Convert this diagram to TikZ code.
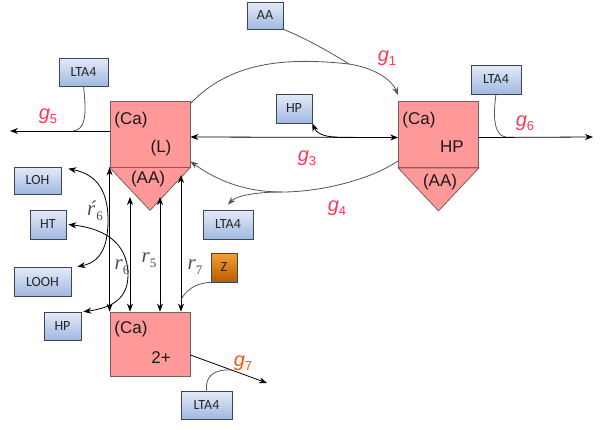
\documentclass[tikz,border=0pt]{standalone}
\usepackage{fontspec}
\setmainfont{Liberation Sans}
\newfontfamily\smallfont{Carlito}
\newfontfamily\rfont{Liberation Serif}
\usetikzlibrary{arrows.meta,calc}
\definecolor{pinkf}{RGB}{255,153,153}
\definecolor{pinkd}{RGB}{120,95,95}
\definecolor{bluetop}{RGB}{228,235,248}
\definecolor{bluebot}{RGB}{160,184,225}
\definecolor{blued}{RGB}{60,70,90}
\definecolor{orgtop}{RGB}{245,160,50}
\definecolor{orgbot}{RGB}{185,90,0}
\definecolor{gcol}{RGB}{255,55,85}
\definecolor{gsev}{RGB}{255,80,20}
\definecolor{rcol}{RGB}{70,78,105}
\definecolor{feedc}{RGB}{85,85,85}
\newcommand{\gl}[1]{\textit{g}\raisebox{-0.22em}{\fontsize{13}{13}\selectfont #1}}
\newcommand{\rl}[2]{\textit{#1}\raisebox{-0.25em}{\fontsize{13}{13}\selectfont #2}}
\begin{document}
\begin{tikzpicture}[x=1pt,y=-1pt,
  pinkbox/.style={draw=pinkd, fill=pinkf, line width=0.8pt, minimum width=80pt, minimum height=66pt, inner sep=0pt},
  tri/.style={draw=pinkd, fill=pinkf, line width=0.8pt},
  bluebox/.style={draw=blued, line width=0.6pt, top color=bluetop, bottom color=bluebot, inner sep=0pt,
    font=\smallfont\fontsize{14}{15}\selectfont, text=black!85},
  zbox/.style={draw=blued, line width=0.6pt, top color=orgtop, bottom color=orgbot, inner sep=0pt,
    font=\smallfont\fontsize{14}{15}\selectfont, text=black!85},
  boxtext/.style={font=\fontsize{17}{20}\selectfont, inner sep=0pt, text=black!90},
  tip/.tip={Stealth[length=8pt,width=6pt]},
  arr/.style={-tip, line width=0.8pt},
  dbl/.style={tip-tip, line width=0.8pt},
  feed/.style={draw=feedc, line width=0.8pt},
  garr/.style={draw=feedc, line width=0.8pt, -tip},
  glab/.style={text=gcol, font=\fontsize{20}{22}\selectfont, inner sep=0pt},
  rlab/.style={text=rcol, font=\rfont\fontsize{21}{22}\selectfont, inner sep=0pt},
]
\useasboundingbox (0,0) rectangle (600,429);

% pink compartments
\node[pinkbox] (L) at (150,134) {};
\draw[tri] (L.south west) -- (L.south east) -- ($(L.south)+(0,43)$) coordinate (Lapex) -- cycle;
\node[pinkbox] (R) at (438.5,134.5) {};
\draw[tri] (R.south west) -- (R.south east) -- ($(R.south)+(0,43)$) coordinate (Rapex) -- cycle;
\node[pinkbox, minimum height=64pt] (B) at (150,344) {};

\node[boxtext] (Lca) at (131,120) {(Ca)};
\node[boxtext] (Ll) at (161,148) {(L)};
\node[boxtext] (Laa) at (148,179) {(AA)};
\node[boxtext] (Rca) at (419,120) {(Ca)};
\node[boxtext] (Rhp) at (452,147) {HP};
\node[boxtext] (Raa) at (440,182) {(AA)};
\node[boxtext] (Bca) at (131,329) {(Ca)};
\node[boxtext] (Btwo) at (161,358) {2+};

% small boxes
\node[bluebox, minimum width=36pt, minimum height=27pt] (aa) at (265,15.5) {AA};
\node[bluebox, minimum width=49pt, minimum height=28pt] (lta1) at (83.5,72) {LTA4};
\node[bluebox, minimum width=36pt, minimum height=29pt] (hp1) at (294,108.5) {HP};
\node[bluebox, minimum width=50pt, minimum height=29pt] (lta2) at (496,79.5) {LTA4};
\node[bluebox, minimum width=47pt, minimum height=27pt] (loh) at (37.5,180.5) {LOH};
\node[bluebox, minimum width=36pt, minimum height=29pt] (ht) at (48,224.5) {HT};
\node[bluebox, minimum width=57pt, minimum height=29pt] (looh) at (42.5,281.5) {LOOH};
\node[bluebox, minimum width=37pt, minimum height=28pt] (hp2) at (62.5,326) {HP};
\node[bluebox, minimum width=50pt, minimum height=29pt] (lta3) at (228,224.5) {LTA4};
\node[zbox, minimum width=26pt, minimum height=29pt] (z) at (224,267.5) {Z};
\node[bluebox, minimum width=51pt, minimum height=28pt] (lta4) at (206.5,405) {LTA4};

% coordinates
\coordinate (g5end) at (10,131);
\coordinate (g5j) at (73,131);
\coordinate (g6end) at (593,137);
\coordinate (g6j) at (506,137);
\coordinate (g3j) at (337,137);
\coordinate (g1j) at (349,64);
\coordinate (g4j) at (282,192);
\coordinate (g7end) at (267,383);
\coordinate (g7j) at (232,370);
\coordinate (t2) at (130,197);
\coordinate (t3) at (160,197);
\coordinate (t4) at (181,175);
\coordinate (zj) at (181,300);

% g5
\draw[arr] ([yshift=3pt]L.west) -- (g5end);
\draw[feed] (lta1.south) .. controls (87,116) and (85,130) .. (g5j);
% g6
\draw[arr] ([yshift=-3pt]R.east) -- (g6end);
\draw[feed] (lta2.south) .. controls (492,122) and (496,136) .. (g6j);
% g3
\draw[dbl] ([yshift=-3pt]L.east) -- ([yshift=-3pt]R.west);
\draw[arr] (g3j) .. controls (322,137) and (316,132) .. (hp1.south east);
% g1
\draw[feed] ([yshift=-3pt]L.north east) .. controls (230,62) and (285,57) .. (g1j);
\draw[garr] (g1j) .. controls (375,68) and (392,80) .. ([yshift=6pt]R.north west);
\draw[feed] (aa.south east) .. controls (305,38) and (330,52) .. (g1j);
% g4
\draw[feed] ([yshift=7pt]R.south west) .. controls (370,180) and (320,192) .. (g4j);
\draw[garr] (g4j) .. controls (240,192) and (212,177) .. ([yshift=6pt]L.south east);
\draw[garr] (g4j) .. controls (255,192) and (236,196) .. ([yshift=5pt]lta3.north);
% g7
\draw[arr] ([yshift=-11pt]B.east) -- (g7end);
\draw[feed] (lta4.north) .. controls (205,376) and (214,369) .. (g7j);

% vertical exchanges
\draw[dbl] (L.south west) -- (B.north west);
\draw[dbl] (t2) -- (t2 |- B.north);
\draw[dbl] (t3) -- (t3 |- B.north);
\draw[dbl] (t4) -- (t4 |- B.north);
\draw[feed] (z.south west) .. controls (195,283) and (185,291) .. (zj);

% side curves
\draw[dbl] ([shift={(7,2)}]loh.north east) .. controls (100,175) and (108,195) .. (108,220)
   .. controls (108,248) and (100,262) .. ([xshift=6pt]looh.north east);
\draw[dbl] ([xshift=2pt]ht.east) .. controls (100,228) and (128,240) .. (128,275)
   .. controls (128,300) and (110,308) .. ([xshift=2pt]hp2.north east);

% labels
\node[glab] (lg1) at (387,58) {\gl{1}};
\node[glab] (lg5) at (48,116) {\gl{5}};
\node[glab] (lg6) at (525,123) {\gl{6}};
\node[glab] (lg3) at (307,158) {\gl{3}};
\node[glab] (lg4) at (337,208) {\gl{4}};
\node[glab, text=gsev] (lg7) at (243,363) {\gl{7}};
\node[rlab] (lr6p) at (95,211) {\rl{ŕ}{6}};
\node[rlab] (lr6) at (122,267) {\rl{r}{6}};
\node[rlab] (lr5) at (149,260) {\rl{r}{5}};
\node[rlab] (lr7) at (195,267) {\rl{r}{7}};
\end{tikzpicture}
\end{document}
